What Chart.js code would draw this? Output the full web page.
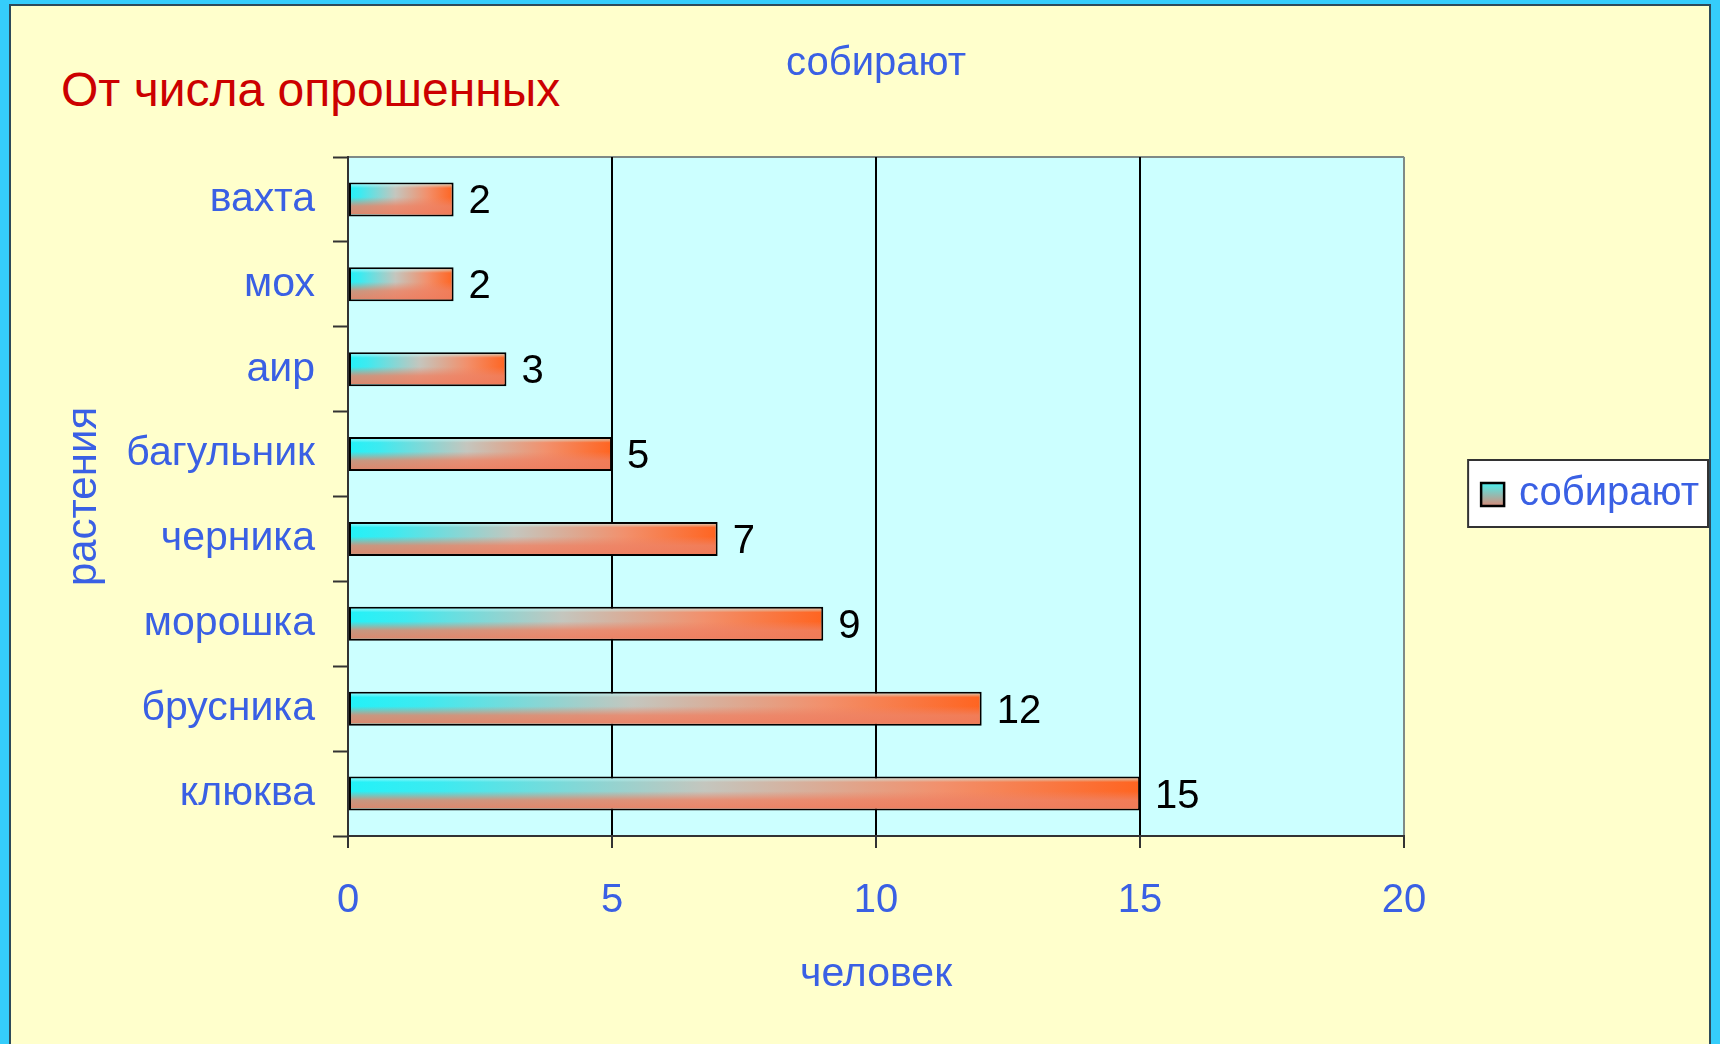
<!DOCTYPE html>
<html>
<head>
<meta charset="utf-8">
<script src="https://cdn.jsdelivr.net/npm/chart.js@4.4.1/dist/chart.umd.min.js"></script>
<style>
    html, body { margin: 0; padding: 0; }
    body {
        width: 1720px; height: 1044px; overflow: hidden; position: relative;
        background: #35cdfb;
        font-family: "Liberation Sans", Arial, sans-serif;
    }
    #panel {
        position: absolute; left: 9px; top: 4px; width: 1702px; height: 1060px;
        background: #ffffcc; border: 2px solid #2d4a5a; box-sizing: border-box;
    }
    #heading {
        position: absolute; left: 61px; top: 66px;
        color: #cc0000; font-size: 48px; line-height: 1; white-space: nowrap;
    }
    #wrap { position: absolute; left: 0; top: 0; width: 1720px; height: 1044px; }
</style>
</head>
<body>
<div id="panel"></div>
<div id="heading">От числа опрошенных</div>
<div id="wrap"><canvas id="plantChart" width="1720" height="1044"></canvas></div>

<script>
// chart data
var PLANTS = ['вахта', 'мох', 'аир', 'багульник', 'черника', 'морошка', 'брусника', 'клюква'];
var PICKERS = [2, 2, 3, 5, 7, 9, 12, 15];
var X_TICKS = [0, 5, 10, 15, 20];
var SERIES_NAME = 'собирают';
var X_TITLE = 'человек';
var Y_TITLE = 'растения';

var BLUE = '#3a60e4';
var FONT = '"Liberation Sans", Arial, sans-serif';

// plot background, top border and the framed legend (drawn under everything)
var backdrop = {
    id: 'backdrop',
    beforeDraw: function(chart) {
        var ctx = chart.ctx, a = chart.chartArea;
        ctx.save();
        ctx.fillStyle = '#ccffff';
        ctx.fillRect(a.left, a.top, a.right - a.left, a.bottom - a.top);
        ctx.strokeStyle = '#7f8a86';
        ctx.lineWidth = 2;
        ctx.beginPath();
        ctx.moveTo(a.left, a.top);
        ctx.lineTo(a.right, a.top);
        ctx.stroke();

        var hb = chart.legend && chart.legend.legendHitBoxes[0];
        if (hb) {
            var cy = hb.top + hb.height / 2;
            ctx.fillStyle = '#ffffff';
            ctx.fillRect(hb.left - 13, cy - 34, hb.width + 22, 67);
            ctx.strokeStyle = '#333';
            ctx.lineWidth = 2;
            ctx.strokeRect(hb.left - 13, cy - 34, hb.width + 22, 67);
            // gradient swatch, the legend itself draws only the text
            var g = ctx.createLinearGradient(0, cy - 12, 0, cy + 12);
            g.addColorStop(0, '#44f4f4');
            g.addColorStop(1, '#d88a78');
            ctx.fillStyle = g;
            ctx.fillRect(hb.left, cy - 11, 23, 23);
            ctx.strokeStyle = '#000';
            ctx.lineWidth = 2.5;
            ctx.strokeRect(hb.left, cy - 11, 23, 23);
        }
        ctx.restore();
    }
};

// vertical shading inside each bar and the value labels
var barShade = {
    id: 'barShade',
    afterDatasetsDraw: function(chart) {
        var ctx = chart.ctx;
        var meta = chart.getDatasetMeta(0);
        ctx.save();
        meta.data.forEach(function(bar, i) {
            var p = bar.getProps(['x', 'y', 'base', 'height'], true);
            var bw = 2;
            var left = Math.min(p.base, p.x) + bw;
            var right = Math.max(p.base, p.x) - bw;
            var top = p.y - p.height / 2 + bw;
            var bottom = p.y + p.height / 2 - bw;
            var g = ctx.createLinearGradient(0, top, 0, bottom);
            g.addColorStop(0, 'rgba(200,255,255,0.55)');
            g.addColorStop(0.12, 'rgba(200,255,255,0)');
            g.addColorStop(0.42, 'rgba(238,130,100,0)');
            g.addColorStop(0.72, 'rgba(238,130,100,0.8)');
            g.addColorStop(1, 'rgba(238,125,95,0.9)');
            ctx.fillStyle = g;
            ctx.fillRect(left, top, right - left, bottom - top);

            ctx.fillStyle = '#000';
            ctx.font = '40px ' + FONT;
            ctx.textAlign = 'left';
            ctx.textBaseline = 'middle';
            ctx.fillText(String(PICKERS[i]), p.x + 15, p.y + 3);
        });
        ctx.restore();
    }
};

var ctx = document.getElementById('plantChart');

new Chart(ctx, {
    type: 'bar',
    data: {
        labels: PLANTS,
        datasets: [{
            label: SERIES_NAME,
            data: PICKERS,
            backgroundColor: function(c) {
                var chart = c.chart;
                if (!chart.chartArea || c.type !== 'data') return '#d8b0a0';
                var xs = chart.scales.x;
                var x0 = xs.getPixelForValue(0);
                var x1 = xs.getPixelForValue(c.raw);
                var g = chart.ctx.createLinearGradient(x0, 0, x1, 0);
                g.addColorStop(0, '#22f2f8');
                g.addColorStop(0.12, '#3eeaf0');
                g.addColorStop(0.45, '#c4c6be');
                g.addColorStop(0.75, '#f2906c');
                g.addColorStop(1, '#ff6420');
                return g;
            },
            borderColor: '#000',
            borderWidth: 2,
            borderSkipped: false,
            categoryPercentage: 1,
            barPercentage: 0.4
        }]
    },
    options: {
        indexAxis: 'y',
        responsive: false,
        animation: false,
        layout: {
            padding: { left: 59, right: 11, top: -11, bottom: 45 }
        },
        plugins: {
            tooltip: { enabled: false },
            title: {
                display: true,
                text: SERIES_NAME,
                color: BLUE,
                fullSize: false,
                font: { family: FONT, size: 40, weight: 'normal' },
                padding: { top: 51, bottom: 69 }
            },
            legend: {
                position: 'right',
                labels: {
                    boxWidth: 18,
                    boxHeight: 23,
                    padding: 77,
                    color: BLUE,
                    font: { family: FONT, size: 40 },
                    generateLabels: function(chart) {
                        return chart.data.datasets.map(function(ds, i) {
                            return {
                                text: ds.label,
                                fillStyle: 'rgba(0,0,0,0)',
                                strokeStyle: 'rgba(0,0,0,0)',
                                lineWidth: 0,
                                fontColor: BLUE,
                                datasetIndex: i
                            };
                        });
                    }
                }
            }
        },
        scales: {
            x: {
                type: 'linear',
                position: 'bottom',
                min: X_TICKS[0],
                max: X_TICKS[X_TICKS.length - 1],
                ticks: {
                    stepSize: X_TICKS[1] - X_TICKS[0],
                    color: BLUE,
                    padding: 29,
                    font: { family: FONT, size: 40 }
                },
                grid: {
                    color: function(c) {
                        return c.tick && c.tick.value === X_TICKS[X_TICKS.length - 1] ? '#7f8a86' : '#000';
                    },
                    lineWidth: 2,
                    tickLength: 12,
                    tickColor: '#333',
                    tickWidth: 2
                },
                border: { color: '#333', width: 2 },
                title: {
                    display: true,
                    text: X_TITLE,
                    color: BLUE,
                    padding: 0,
                    font: { family: FONT, size: 41 }
                },
                afterFit: function(scale) { scale.height = 163; }
            },
            y: {
                type: 'category',
                offset: true,
                ticks: {
                    color: BLUE,
                    padding: 18,
                    font: { family: FONT, size: 41 }
                },
                grid: {
                    offset: true,
                    drawOnChartArea: false,
                    tickLength: 15,
                    tickColor: '#333',
                    tickWidth: 2
                },
                border: { color: '#333', width: 2 },
                title: {
                    display: true,
                    text: Y_TITLE,
                    color: BLUE,
                    padding: 0,
                    font: { family: FONT, size: 42 }
                },
                afterFit: function(scale) { scale.width = 289; }
            }
        }
    },
    plugins: [backdrop, barShade]
});
</script>
</body>
</html>
